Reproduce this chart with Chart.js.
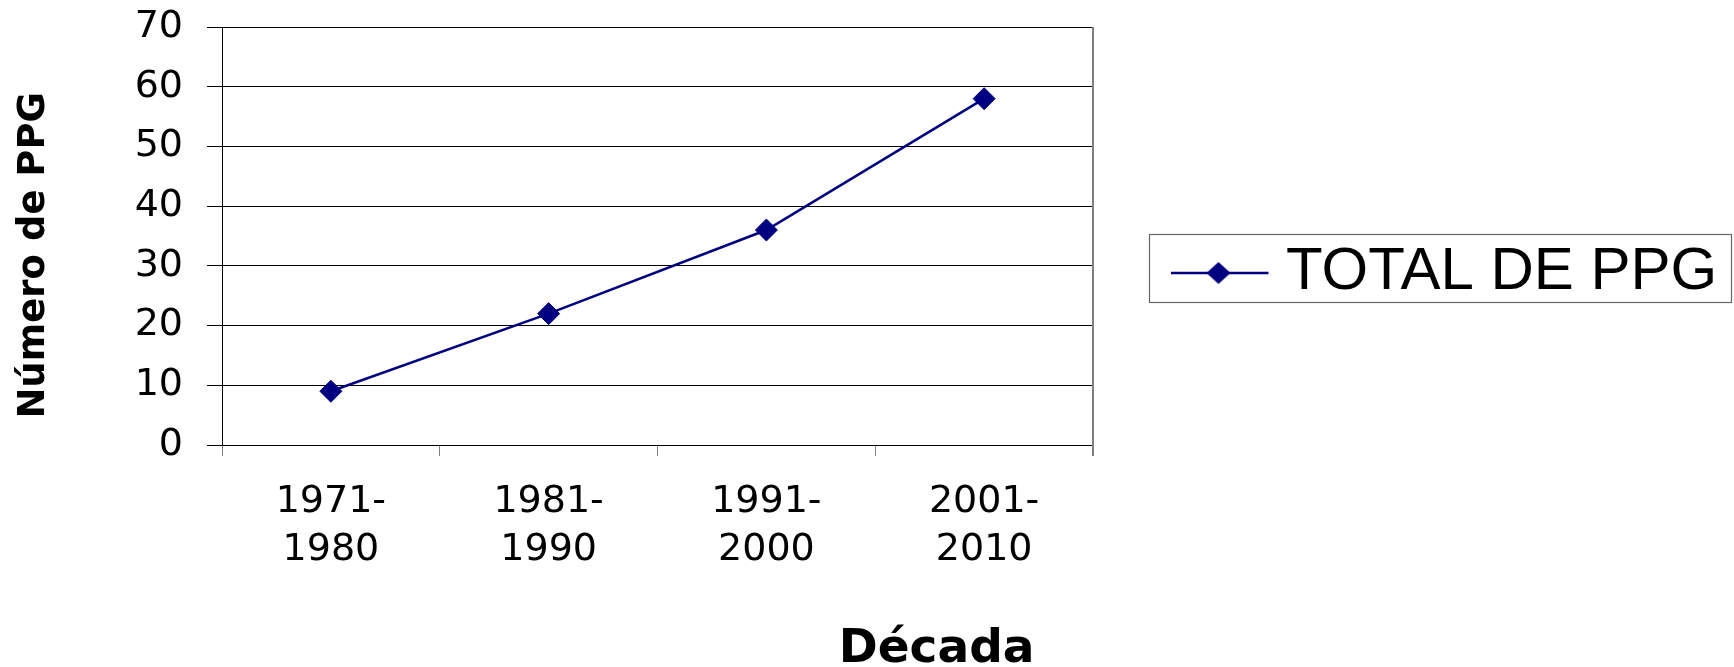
<!DOCTYPE html>
<html><head><meta charset="utf-8">
<script src="https://cdn.jsdelivr.net/npm/chart.js@4"></script>
<style>html,body{margin:0;padding:0;background:#fff;overflow:hidden}</style>
</head><body>
<canvas id="c" width="1734" height="667"></canvas>
<script>
const categories = [["1971-","1980"],["1981-","1990"],["1991-","2000"],["2001-","2010"]];
const seriesName = "TOTAL DE PPG";
const totalPPG = [9, 22, 36, 58];
const yTicks = [0, 10, 20, 30, 40, 50, 60, 70];
const xTitle = "Década";
const yTitle = "Número de PPG";

const NAVY = '#000080';
const SANS = '"Liberation Sans", Arial, sans-serif';
const WIDE = '"DejaVu Sans", sans-serif';
const LEGEND_SIZE = 60;

// legend icon: line with diamond
const icon = document.createElement('canvas');
icon.width = 102; icon.height = 30;
(function(){
  const ic = icon.getContext('2d');
  ic.strokeStyle = NAVY; ic.lineWidth = 2.5;
  ic.beginPath(); ic.moveTo(1, 16); ic.lineTo(101, 16); ic.stroke();
  ic.fillStyle = NAVY;
  ic.beginPath(); ic.moveTo(39, 16); ic.lineTo(51, 5); ic.lineTo(63, 16); ic.lineTo(51, 27); ic.closePath(); ic.fill();
})();

const layoutPlugin = {
  id: 'layoutTweaks',
  afterLayout(chart) {
    const lg = chart.legend;
    if (!lg) return;
    const p = lg.options.labels.padding;
    const ca = chart.chartArea;
    const bw = lg.options.labels.pointStyleWidth;
    // item x such that text starts at fixed gap after the icon
    lg.left = ca.right + 89.5 - p - (LEGEND_SIZE / 2 - 28.5);
    lg.top = 242 - p;
    lg.right = chart.width;
    lg.bottom = chart.height;
    lg.width = lg.right - lg.left;
    lg.height = lg.bottom - lg.top;
  },
  beforeDatasetsDraw(chart) {
    const {ctx, chartArea: ca} = chart;
    ctx.save();
    ctx.strokeStyle = '#808080'; ctx.lineWidth = 2;
    ctx.beginPath(); ctx.moveTo(ca.right, ca.top); ctx.lineTo(ca.right, ca.bottom + 11); ctx.stroke();
    ctx.restore();
  },
  afterDraw(chart) {
    const lg = chart.legend;
    const ctx = chart.ctx;
    const p = lg.options.labels.padding;
    const bw = lg.options.labels.pointStyleWidth;
    ctx.save();
    ctx.font = LEGEND_SIZE + 'px ' + SANS;
    const tw = ctx.measureText(seriesName).width;
    const ix = lg.left + p, iy = lg.top + p;
    const x0 = Math.round(ix + bw / 2 - 70) + 0.5, y0 = 234.5;
    const x1 = Math.min(Math.round(ix + bw + LEGEND_SIZE / 2 + tw + 18) + 0.5, chart.width - 2.5), y1 = y0 + 68;
    ctx.strokeStyle = '#666'; ctx.lineWidth = 1.2;
    ctx.strokeRect(x0, y0, x1 - x0, y1 - y0);
    ctx.restore();
  }
};

new Chart(document.getElementById('c'), {
  type: 'line',
  data: {
    labels: categories,
    datasets: [{
      label: seriesName,
      data: totalPPG,
      borderColor: NAVY,
      backgroundColor: NAVY,
      borderWidth: 2.5,
      tension: 0,
      pointStyle: 'rectRot',
      pointRadius: 11,
      pointHoverRadius: 11,
      pointBackgroundColor: NAVY,
      pointBorderColor: NAVY,
      pointBorderWidth: 1
    }]
  },
  options: {
    responsive: false,
    animation: false,
    devicePixelRatio: 1,
    layout: { padding: { left: 0, top: 27, right: 641, bottom: 0 } },
    plugins: {
      tooltip: { enabled: false },
      legend: {
        display: true,
        position: 'chartArea',
        align: 'start',
        labels: {
          usePointStyle: true,
          pointStyle: icon,
          pointStyleWidth: 75,
          padding: 10,
          textAlign: 'left',
          color: '#000',
          font: { family: SANS, size: LEGEND_SIZE }
        }
      }
    },
    scales: {
      x: {
        type: 'category',
        offset: true,
        afterFit: s => { s.height = 222; s.paddingLeft = 0; s.paddingRight = 0; },
        grid: { offset: true, drawOnChartArea: false, drawTicks: true, tickLength: 11, color: '#808080', lineWidth: 1 },
        border: { display: true, color: '#000', width: 1 },
        ticks: {
          color: '#000', padding: 22, maxRotation: 0, autoSkip: false,
          font: { family: WIDE, size: 38, lineHeight: 48 / 38 }
        },
        title: {
          display: true, text: xTitle + '   \u2009', align: 'end', color: '#000',
          font: { family: WIDE, size: 47, weight: 'bold', lineHeight: 0.75 },
          padding: { top: 0, bottom: 0 }
        }
      },
      y: {
        min: yTicks[0],
        max: yTicks[yTicks.length - 1],
        afterFit: s => { s.width = 222; s.paddingTop = 0; s.paddingBottom = 0; },
        afterBuildTicks: s => { s.ticks = yTicks.map(v => ({ value: v })); },
        grid: { color: '#000', lineWidth: 1, tickLength: 15, drawTicks: true },
        border: { display: true, color: '#000', width: 1 },
        ticks: {
          color: '#000', padding: 24,
          font: { family: WIDE, size: 38, lineHeight: 1.2 }
        },
        title: {
          display: true, text: yTitle + '   ', color: '#000',
          font: { family: WIDE, size: 37, weight: 'bold', lineHeight: 1 },
          padding: { top: 16, bottom: 0 }
        }
      }
    }
  },
  plugins: [layoutPlugin]
});
</script>
</body></html>
